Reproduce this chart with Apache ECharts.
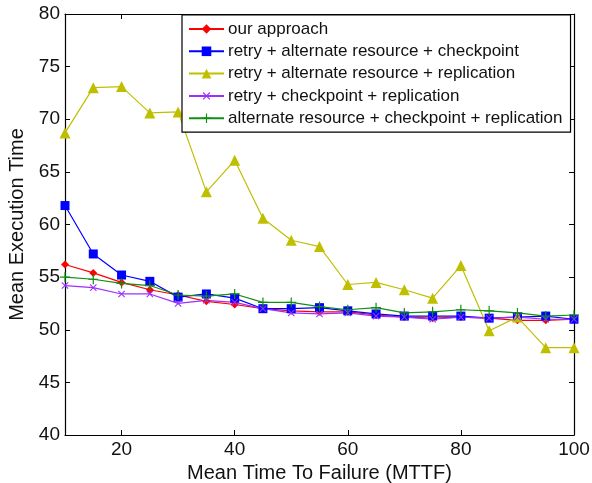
<!DOCTYPE html>
<html>
<head>
<meta charset="utf-8">
<script src="https://cdn.jsdelivr.net/npm/echarts@6/dist/echarts.min.js"></script>
<style>
html,body{margin:0;padding:0;background:#fff;}
#chart{width:592px;height:483px;}
</style>
</head>
<body>
<div id="chart"></div>
<script>
const mttf = [10,15,20,25,30,35,40,45,50,55,60,65,70,75,80,85,90,95,100];
const seriesNames = [
  'our approach',
  'retry + alternate resource + checkpoint',
  'retry + alternate resource + replication',
  'retry + checkpoint + replication',
  'alternate resource + checkpoint + replication'
];
const ourApproach = [56.2,55.4,54.5,53.8,53.3,52.7,52.4,52.0,51.8,51.7,51.7,51.4,51.2,51.1,51.2,51.1,50.9,50.9,51.0];
const retryAltCheck = [61.8,57.2,55.2,54.6,53.1,53.4,53.0,52.0,52.0,52.1,51.8,51.5,51.3,51.3,51.3,51.1,51.2,51.3,51.0];
const retryAltRepl = [68.7,73.0,73.1,70.6,70.7,63.1,66.1,60.6,58.5,57.9,54.3,54.5,53.8,53.0,56.1,49.9,51.2,48.3,48.3];
const retryCheckRepl = [54.2,54.0,53.4,53.4,52.5,52.8,52.6,52.0,51.6,51.5,51.6,51.3,51.2,51.0,51.2,51.1,51.2,51.0,51.0];
const altCheckRepl = [55.0,54.8,54.4,54.2,53.3,53.2,53.4,52.6,52.6,52.2,51.9,52.1,51.6,51.7,51.9,51.8,51.6,51.3,51.4];
const xTicks = [20,40,60,80,100];
const yTicks = [40,45,50,55,60,65,70,75,80];

const FONT = '"Liberation Sans", Arial, sans-serif';
const plusPath = 'path://M4.4,0h1.2v10h-1.2z M0,4.4h10v1.2h-10z';
const colors = ['#ff0000','#0000ff','#bfbf00','#9b30ff','#108f10'];
const symbols = ['diamond','rect',"triangle",plusPath,plusPath];
const sizes = [8,9,11,9,10];
const rot = [0,0,0,45,0];
const datas = [ourApproach, retryAltCheck, retryAltRepl, retryCheckRepl, altCheckRepl];

const series = seriesNames.map((n,i)=>({
  name: n,
  type: 'line',
  data: mttf.map((x,j)=>[x, datas[i][j]]),
  symbol: symbols[i],
  symbolSize: sizes[i],
  symbolRotate: rot[i],
  showAllSymbol: true,
  lineStyle: {color: colors[i], width: 1.2},
  itemStyle: {color: colors[i]},
  emphasis: {disabled: true},
  animation: false,
  xAxisIndex: 0, yAxisIndex: 0
}));

const axisLineStyle = {show:true, lineStyle:{color:'#000', width:1.2}};
const chart = echarts.init(document.getElementById('chart'));
chart.setOption({
  animation: false,
  textStyle: {fontFamily: FONT},
  grid: {left: 65, right: 18, top: 14, bottom: 48, containLabel: false, outerBoundsMode: 'none'},
  legend: {
    orient: 'vertical',
    left: 182, top: 15,
    data: seriesNames,
    backgroundColor: '#fff',
    borderColor: '#000',
    borderWidth: 1.2,
    padding: [5, 8, 5, 6],
    itemGap: 4.3,
    itemWidth: 35,
    itemHeight: 12,
    textStyle: {fontFamily: FONT, fontSize: 17, lineHeight: 18, color: '#111', padding:[0,0,0,-1]}
  },
  xAxis: [{
    type: 'value', min: 10, max: 100, position: 'bottom',
    axisLine: axisLineStyle,
    axisTick: {show: true, inside: true, length: 5, customValues: xTicks, lineStyle:{color:'#000'}},
    axisLabel: {customValues: xTicks, fontSize: 19, color: '#111', margin: 5, fontFamily: FONT},
    splitLine: {show: false},
    name: 'Mean Time To Failure (MTTF)', nameLocation: 'middle', nameGap: 24,
    nameTextStyle: {fontSize: 20, color: '#111', fontFamily: FONT}
  },{
    type: 'value', min: 10, max: 100, position: 'top',
    axisLine: axisLineStyle,
    axisTick: {show: true, inside: true, length: 5, customValues: xTicks, lineStyle:{color:'#000'}},
    axisLabel: {show: false},
    splitLine: {show: false}
  }],
  yAxis: [{
    type: 'value', min: 40, max: 80, interval: 5, position: 'left',
    axisLine: axisLineStyle,
    axisTick: {show: true, inside: true, length: 5, lineStyle:{color:'#000'}},
    axisLabel: {fontSize: 19, color: '#111', margin: 5, fontFamily: FONT},
    splitLine: {show: false},
    name: 'Mean Execution Time', nameLocation: 'middle', nameGap: 31, nameRotate: 90,
    nameTextStyle: {fontSize: 20, color: '#111', fontFamily: FONT}
  },{
    type: 'value', min: 40, max: 80, interval: 5, position: 'right',
    axisLine: axisLineStyle,
    axisTick: {show: true, inside: true, length: 5, lineStyle:{color:'#000'}},
    axisLabel: {show: false},
    splitLine: {show: false}
  }],
  series: series
});
</script>
</body>
</html>
